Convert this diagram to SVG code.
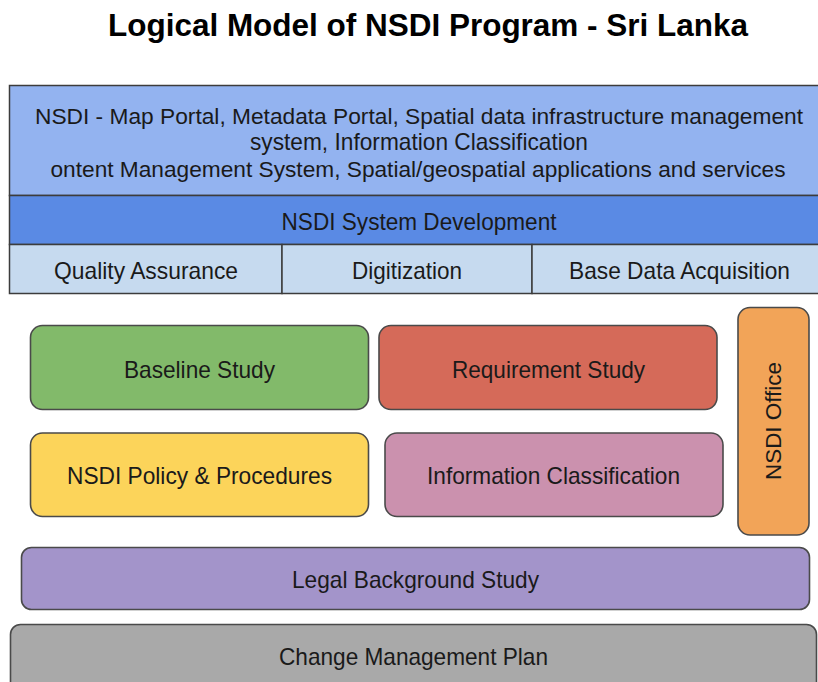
<svg xmlns="http://www.w3.org/2000/svg" width="818" height="682" viewBox="0 0 818 682">
  <style>
    .t { font-family: "Liberation Sans", Arial, sans-serif; font-size: 24px; fill: #1a1a1a; text-anchor: middle; }
    .w { font-size: 22px; }
    .v { font-family: "Liberation Sans", Arial, sans-serif; font-size: 22px; fill: #1a1a1a; text-anchor: middle; }
    .title { font-family: "Liberation Sans", Arial, sans-serif; font-size: 31px; font-weight: bold; fill: #000; text-anchor: middle; }
    .band { stroke: #3c3c3c; stroke-width: 1.5; }
    .box { stroke: #4a4a4a; stroke-width: 1.6; }
  </style>
  <rect width="818" height="682" fill="#ffffff"/>

  <text class="title" x="428" y="36" textLength="640" lengthAdjust="spacingAndGlyphs">Logical Model of NSDI Program - Sri Lanka</text>

  <!-- Top layered bands -->
  <g id="portal">
    <rect class="band" x="9.5" y="85.5" width="812" height="110" fill="#93b3f0"/>
    <text class="t w" x="419" y="124" textLength="768" lengthAdjust="spacingAndGlyphs">NSDI - Map Portal, Metadata Portal, Spatial data infrastructure management</text>
    <text class="t" x="419" y="150" textLength="338" lengthAdjust="spacingAndGlyphs">system, Information Classification</text>
    <text class="t w" x="418" y="177" textLength="735" lengthAdjust="spacingAndGlyphs">ontent Management System, Spatial/geospatial applications and services</text>
  </g>
  <g id="system-development">
    <rect class="band" x="9.5" y="195.5" width="812" height="49" fill="#5a8ae4"/>
    <text class="t" x="419" y="230" textLength="275" lengthAdjust="spacingAndGlyphs">NSDI System Development</text>
  </g>
  <g id="quality-assurance">
    <rect class="band" x="9.5" y="244.5" width="272.5" height="49" fill="#c6daef"/>
    <text class="t" x="146" y="279" textLength="184" lengthAdjust="spacingAndGlyphs">Quality Assurance</text>
  </g>
  <g id="digitization">
    <rect class="band" x="282" y="244.5" width="250" height="49" fill="#c6daef"/>
    <text class="t" x="407" y="279" textLength="110" lengthAdjust="spacingAndGlyphs">Digitization</text>
  </g>
  <g id="base-data-acquisition">
    <rect class="band" x="532" y="244.5" width="290" height="49" fill="#c6daef"/>
    <text class="t" x="679.5" y="279" textLength="221" lengthAdjust="spacingAndGlyphs">Base Data Acquisition</text>
  </g>

  <!-- Program components -->
  <g id="baseline-study">
    <rect class="box" x="30.5" y="325.5" width="338" height="84" rx="12" fill="#82ba6a"/>
    <text class="t" x="199.5" y="378" textLength="151" lengthAdjust="spacingAndGlyphs">Baseline Study</text>
  </g>
  <g id="requirement-study">
    <rect class="box" x="379" y="325.5" width="338" height="84" rx="12" fill="#d56a59"/>
    <text class="t" x="548.5" y="378" textLength="193" lengthAdjust="spacingAndGlyphs">Requirement Study</text>
  </g>
  <g id="policy-procedures">
    <rect class="box" x="30.5" y="433" width="338" height="83.5" rx="12" fill="#fcd45a"/>
    <text class="t" x="199.5" y="484" textLength="265" lengthAdjust="spacingAndGlyphs">NSDI Policy &amp; Procedures</text>
  </g>
  <g id="information-classification">
    <rect class="box" x="385" y="433" width="338" height="83.5" rx="12" fill="#cb91ae"/>
    <text class="t" x="553.5" y="484" textLength="253" lengthAdjust="spacingAndGlyphs">Information Classification</text>
  </g>
  <g id="nsdi-office">
    <rect class="box" x="738" y="307.5" width="71" height="227.5" rx="12" fill="#f2a458"/>
    <text class="v" transform="translate(781 421) rotate(-90)" x="0" y="0" textLength="118" lengthAdjust="spacingAndGlyphs">NSDI Office</text>
  </g>
  <g id="legal-background">
    <rect class="box" x="21.5" y="547.5" width="788" height="62" rx="10" fill="#a394ca"/>
    <text class="t" x="415.5" y="588" textLength="247" lengthAdjust="spacingAndGlyphs">Legal Background Study</text>
  </g>
  <g id="change-management">
    <rect class="box" x="10.5" y="624.5" width="806" height="70" rx="10" fill="#a9a9a9"/>
    <text class="t" x="413.5" y="665" textLength="269" lengthAdjust="spacingAndGlyphs">Change Management Plan</text>
  </g>

  <g id="connectors"/>
</svg>
